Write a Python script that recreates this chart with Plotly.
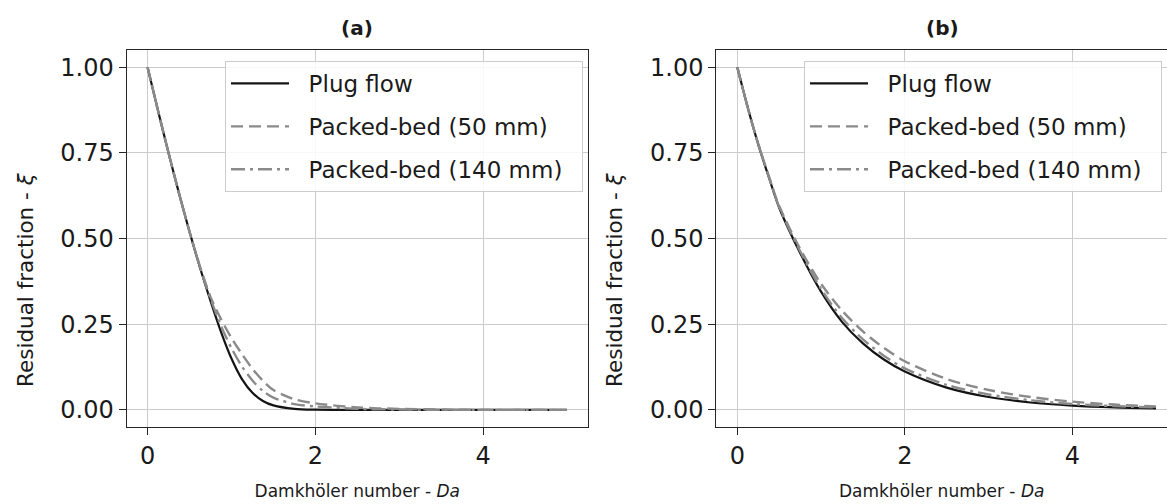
import plotly.graph_objects as go

# ---------------- data ----------------
da_a = [0, 0.125, 0.25, 0.375, 0.5, 0.625, 0.75, 0.875, 1.0, 1.125, 1.25, 1.375, 1.5, 1.75, 2.0, 2.5, 3.0, 3.5, 4.0, 5.0]
plug_a = [1.0, 0.873, 0.75, 0.632, 0.52, 0.415, 0.318, 0.228, 0.15, 0.09, 0.05, 0.026, 0.013, 0.003, 0.0005, 0, 0, 0, 0, 0]
pb50_a = [1.0, 0.873, 0.75, 0.632, 0.52, 0.418, 0.33, 0.265, 0.21, 0.163, 0.12, 0.085, 0.058, 0.031, 0.019, 0.007, 0.003, 0.001, 0, 0]
pb140_a = [1.0, 0.873, 0.75, 0.632, 0.52, 0.417, 0.325, 0.245, 0.18, 0.127, 0.086, 0.055, 0.036, 0.017, 0.01, 0.003, 0.001, 0, 0, 0]

da_b = [0, 0.125, 0.25, 0.375, 0.5, 0.75, 1.0, 1.25, 1.5, 1.75, 2.0, 2.5, 3.0, 3.5, 4.0, 4.5, 5.0]
plug_b = [1.0, 0.882, 0.775, 0.68, 0.59, 0.458, 0.345, 0.257, 0.194, 0.147, 0.112, 0.065, 0.0375, 0.0216, 0.0125, 0.0072, 0.0042]
pb50_b = [1.0, 0.882, 0.776, 0.683, 0.595, 0.47, 0.368, 0.29, 0.229, 0.181, 0.142, 0.09, 0.058, 0.0375, 0.024, 0.0155, 0.01]
pb140_b = [1.0, 0.882, 0.775, 0.682, 0.592, 0.463, 0.353, 0.268, 0.206, 0.158, 0.121, 0.073, 0.045, 0.028, 0.017, 0.011, 0.007]

series_names = ["Plug flow", "Packed-bed (50 mm)", "Packed-bed (140 mm)"]
panel_titles = ["(a)", "(b)"]
x_title = "Damkhöler number - <i>Da</i>"
y_title = "Residual fraction - <i>ξ</i>"
y_ticks = [0, 0.25, 0.5, 0.75, 1.0]
x_ticks = [0, 2, 4]

# ---------------- styling ----------------
W, H = 1167, 504
FONT = "DejaVu Sans"
INK = "#1a1a1a"
NB = "\u00a0"
styles = [
    dict(color="#141414", width=2.2, dash="solid"),
    dict(color="#8a8a8a", width=2.4, dash="12px,6px"),
    dict(color="#8a8a8a", width=2.4, dash="14px,5px,3px,5px"),
]

fig = go.Figure()

panels = [
    (da_a, [plug_a, pb50_a, pb140_a], "x", "y", "legend"),
    (da_b, [plug_b, pb50_b, pb140_b], "x2", "y2", "legend2"),
]
for pi, (xs, ys_list, xa, ya, lg) in enumerate(panels):
    for si, ys in enumerate(ys_list):
        fig.add_trace(go.Scatter(
            x=xs, y=ys, mode="lines", name=NB * 2 + series_names[si] + NB * 2,
            line=dict(shape="spline", smoothing=0.8, **styles[si]),
            xaxis=xa, yaxis=ya, legend=lg,
            legendgroup=f"p{pi}s{si}", showlegend=True,
        ))

def px(x):
    return x / W

def py(y):
    return 1 - y / H

ydom = [py(427), py(50.2)]
xdom_a = [px(126.6), px(588)]
xdom_b = [px(716.4), 1.0]

grid = "#cccccc"
spine = "#262626"
common_x = dict(
    tickvals=x_ticks, ticktext=[str(v) for v in x_ticks],
    showgrid=True, gridcolor=grid, gridwidth=1.2, zeroline=False,
    showline=True, linecolor=spine, linewidth=1.2, mirror=True,
    ticks="outside", ticklen=7, tickwidth=1.2, tickcolor=spine,
    tickfont=dict(family=FONT, size=24, color=INK),
    title=dict(text=x_title, font=dict(family=FONT, size=17, color=INK), standoff=16),
)
common_y = dict(
    tickvals=y_ticks, ticktext=[f"{v:.2f}" for v in y_ticks],
    range=[-0.05, 1.05], domain=ydom,
    showgrid=True, gridcolor=grid, gridwidth=1.2, zeroline=False,
    showline=True, linecolor=spine, linewidth=1.2,
    ticks="outside", ticklen=7, tickwidth=1.2, tickcolor=spine,
    tickfont=dict(family=FONT, size=24, color=INK),
)

legend_common = dict(
    font=dict(family=FONT, size=23, color=INK),
    bgcolor="rgba(255,255,255,0.85)", bordercolor="#cccccc", borderwidth=1,
    xanchor="right", yanchor="top", tracegroupgap=10,
    itemwidth=58,
)

annotations = [
    dict(text=f"<b>{panel_titles[0]}</b>", x=(xdom_a[0] + xdom_a[1]) / 2, y=py(28),
         xref="paper", yref="paper", showarrow=False, xanchor="center", yanchor="middle",
         font=dict(family=FONT, size=20, color=INK)),
    dict(text=f"<b>{panel_titles[1]}</b>", x=px(942), y=py(28),
         xref="paper", yref="paper", showarrow=False, xanchor="center", yanchor="middle",
         font=dict(family=FONT, size=20, color=INK)),
]
for xc in (25, 614):
    annotations.append(dict(text=y_title, x=px(xc), y=py(280), xref="paper", yref="paper",
                            showarrow=False, textangle=-90, xanchor="center", yanchor="middle",
                            font=dict(family=FONT, size=21.5, color=INK)))

fig.update_layout(
    width=W, height=H,
    margin=dict(l=0, r=0, t=0, b=0),
    paper_bgcolor="white", plot_bgcolor="white",
    xaxis=dict(domain=xdom_a, range=[-0.25, 5.25], anchor="y", **common_x),
    yaxis=dict(anchor="x", mirror=True, **common_y),
    xaxis2=dict(domain=xdom_b, range=[-0.25, 5.131], anchor="y2", **common_x),
    yaxis2=dict(anchor="x2", mirror=False, **common_y),
    legend=dict(x=px(583), y=py(61), **legend_common),
    legend2=dict(x=px(1162), y=py(61), **legend_common),
    annotations=annotations,
)

fig.write_html("out.html")
